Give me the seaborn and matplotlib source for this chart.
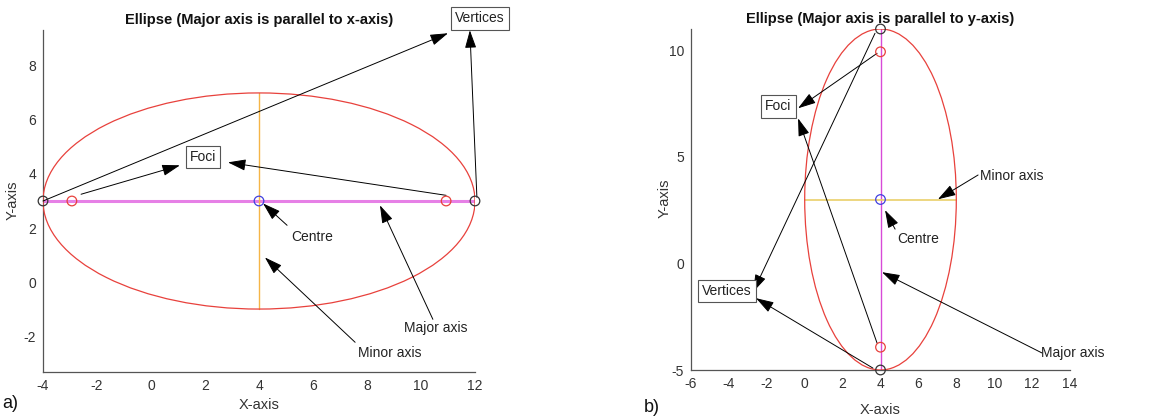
import matplotlib
matplotlib.use("Agg")
import matplotlib.pyplot as plt
from matplotlib.patches import Ellipse
import seaborn as sns
import pandas as pd

sns.set_theme(style="white")
plt.rcParams['font.family'] = ['Liberation Sans', 'DejaVu Sans']
plt.rcParams['axes.unicode_minus'] = False

# ---------------- data ----------------
centre_x = 4
centre_y = 3
semi_major = 8
semi_minor = 4

# panel a: major axis parallel to x-axis
a_vertices_x = [-4, 12]
a_vertices_y = [3, 3]
a_foci_x = [-2.93, 10.93]
a_foci_y = [3, 3]
a_major_x = [-4, 12]
a_major_y = [3, 3]
a_minor_x = [4, 4]
a_minor_y = [-1, 7]

# panel b: major axis parallel to y-axis
b_vertices_x = [4, 4]
b_vertices_y = [11, -5]
b_foci_x = [4, 4]
b_foci_y = [9.93, -3.93]
b_major_x = [4, 4]
b_major_y = [-5, 11]
b_minor_x = [0, 8]
b_minor_y = [3, 3]

a_xticks = [-4, -2, 0, 2, 4, 6, 8, 10, 12]
a_yticks = [-2, 0, 2, 4, 6, 8]
b_xticks = [-6, -4, -2, 0, 2, 4, 6, 8, 10, 12, 14]
b_yticks = [-5, 0, 5, 10]

# annotation anchors (text position, arrow tail, arrow head)
a_notes = {
    "Vertices": dict(text=(12.19, 9.76), box=True,
                     arrows=[((-4, 3), (11.0, 9.21)), ((12.07, 3.14), (11.81, 9.32))]),
    "Foci": dict(text=(1.93, 4.62), box=True,
                 arrows=[((-2.59, 3.25), (1.07, 4.32)), ((10.93, 3.21), (2.85, 4.43))]),
    "Centre": dict(text=(5.96, 1.65), box=False,
                   arrows=[((5.04, 2.10), (4.15, 2.91))]),
    "Minor axis": dict(text=(8.85, -2.62), box=False,
                       arrows=[((7.56, -2.23), (4.22, 0.91))]),
    "Major axis": dict(text=(10.56, -1.71), box=False,
                       arrows=[((10.44, -1.38), (8.48, 2.84))]),
}
b_notes = {
    "Foci": dict(text=(-1.38, 7.37), box=True,
                 arrows=[((3.82, 9.86), (-0.35, 7.28)), ((3.82, -3.74), (-0.35, 6.81))]),
    "Vertices": dict(text=(-4.10, -1.30), box=True,
                     arrows=[((3.71, 10.80), (-2.73, -1.35)), ((3.60, -4.91), (-2.57, -1.63))]),
    "Minor axis": dict(text=(10.9, 4.09), box=False,
                       arrows=[((9.15, 4.15), (7.03, 3.01))]),
    "Centre": dict(text=(6.0, 1.14), box=False,
                   arrows=[((4.77, 1.61), (4.24, 2.50))]),
    "Major axis": dict(text=(14.16, -4.2), box=False,
                       arrows=[((12.52, -4.2), (4.08, -0.41))]),
}

# ---------------- figure ----------------
fig = plt.figure(figsize=(11.68, 4.2), dpi=100)
axA = fig.add_axes([43/1168, 48/420, 432/1168, 342/420])
axB = fig.add_axes([691/1168, 50/420, 379/1168, 341/420])

AX_COL = "#555555"
RED = "#e8413c"


def style_axes(ax, xlim, ylim, xt, yt, title, xlab_y, ylab_x):
    ax.set_xlim(*xlim)
    ax.set_ylim(*ylim)
    ax.set_xticks(xt)
    ax.set_yticks(yt)
    for s in ["top", "right"]:
        ax.spines[s].set_visible(False)
    for s in ["left", "bottom"]:
        ax.spines[s].set_color(AX_COL)
        ax.spines[s].set_linewidth(0.9)
    ax.tick_params(direction="in", length=4, width=0.8, colors=AX_COL,
                   labelcolor="#333333", labelsize=10, pad=5)
    ax.set_facecolor("white")
    ax.set_title(title, fontsize=10.5, fontweight="bold", pad=4, color="#111111")
    ax.set_xlabel("X-axis", fontsize=10.5, color="#333333")
    ax.set_ylabel("Y-axis", fontsize=10.5, color="#333333")
    ax.xaxis.set_label_coords(0.5, xlab_y)
    ax.yaxis.set_label_coords(ylab_x, 0.503)


def draw_points(ax, xs, ys, color):
    df = pd.DataFrame({"x": xs, "y": ys})
    sns.scatterplot(data=df, x="x", y="y", ax=ax, marker="o", s=48,
                    facecolors="none", edgecolor=color, linewidth=0.9,
                    zorder=5, clip_on=False)


def draw_notes(ax, notes):
    for label, d in notes.items():
        for tail, head in d["arrows"]:
            ax.annotate("", xy=head, xytext=tail, annotation_clip=False,
                        arrowprops=dict(arrowstyle="-|>,head_length=1.1,head_width=0.35",
                                        color="black", lw=0.7, shrinkA=0, shrinkB=0,
                                        mutation_scale=10))
        kw = dict(ha="center", va="center", fontsize=10, color="#222222", clip_on=False)
        if d["box"]:
            kw["bbox"] = dict(boxstyle="square,pad=0.3", fc="white", ec="#555555", lw=0.8)
        ax.text(d["text"][0], d["text"][1], label, **kw)


# ---- panel a ----
axA.add_patch(Ellipse((centre_x, centre_y), 2 * semi_major, 2 * semi_minor,
                      fill=False, ec=RED, lw=0.9, zorder=3))
sns.lineplot(x=a_major_x, y=a_major_y, ax=axA, color="#e680e6", lw=2.2,
             sort=False, zorder=2)
sns.lineplot(x=a_minor_x, y=a_minor_y, ax=axA, color="#f5b547", lw=1.0,
             sort=False, zorder=2, orient="y")
draw_points(axA, a_vertices_x, a_vertices_y, "#333333")
draw_points(axA, a_foci_x, a_foci_y, RED)
draw_points(axA, [centre_x], [centre_y], "#4040e0")
style_axes(axA, (-4, 12), (-3.33, 9.33), a_xticks, a_yticks,
           "Ellipse (Major axis is parallel to x-axis)", -0.077, -0.053)
draw_notes(axA, a_notes)

# ---- panel b ----
axB.add_patch(Ellipse((centre_x, centre_y), 2 * semi_minor, 2 * semi_major,
                      fill=False, ec=RED, lw=0.9, zorder=3))
sns.lineplot(x=b_major_x, y=b_major_y, ax=axB, color="#d84ad8", lw=1.0,
             sort=False, zorder=2, orient="y")
sns.lineplot(x=b_minor_x, y=b_minor_y, ax=axB, color="#ead06a", lw=1.2,
             sort=False, zorder=2)
draw_points(axB, b_vertices_x, b_vertices_y, "#333333")
draw_points(axB, b_foci_x, b_foci_y, RED)
draw_points(axB, [centre_x], [centre_y], "#4040e0")
style_axes(axB, (-6, 14), (-5, 11), b_xticks, b_yticks,
           "Ellipse (Major axis is parallel to y-axis)", -0.097, -0.050)
draw_notes(axB, b_notes)

fig.text(10/1168, 1 - 404/420, "a)", fontsize=13, ha="center", va="center", color="#111111")
fig.text(652/1168, 1 - 407/420, "b)", fontsize=13, ha="center", va="center", color="#111111")

fig.savefig("out.png", dpi=100, facecolor="white")
